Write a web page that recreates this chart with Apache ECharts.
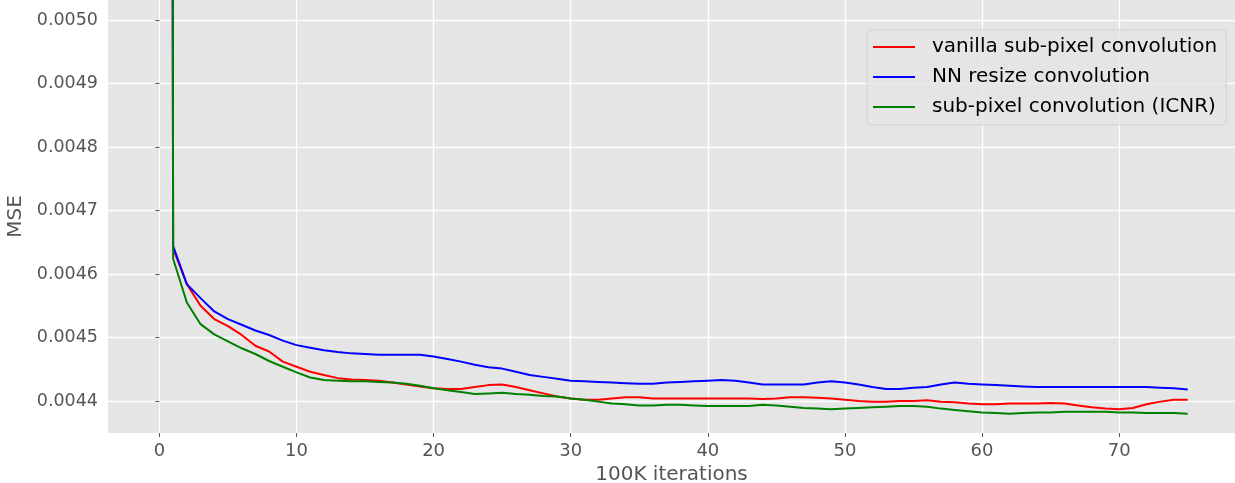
<!DOCTYPE html>
<html>
<head>
<meta charset="utf-8">
<script src="https://cdn.jsdelivr.net/npm/echarts@6/dist/echarts.min.js"></script>
<style>
html,body{margin:0;padding:0;background:#fff;}
#chart{width:1235px;height:483px;}
</style>
</head>
<body>
<div id="chart"></div>
<script>
const iterations = Array.from({length: 76}, (_, i) => i);
const vanillaSubPixel = [
0.0200,0.004640,0.004584,0.004550,0.004529,0.004518,0.004504,0.004487,0.004478,0.004462,
0.004454,0.004446,0.004441,0.004436,0.004434,0.004433,0.004432,0.004429,0.004426,0.004423,
0.004420,0.004419,0.004419,0.004422,0.004425,0.004426,0.004422,0.004417,0.004412,0.004407,
0.004404,0.004402,0.004402,0.004404,0.004406,0.004406,0.004404,0.004404,0.004404,0.004404,
0.004404,0.004404,0.004404,0.004404,0.004403,0.004404,0.004406,0.004406,0.004405,0.004404,
0.004402,0.004400,0.004399,0.004399,0.004400,0.004400,0.004401,0.004399,0.004398,0.004396,
0.004395,0.004395,0.004396,0.004396,0.004396,0.004397,0.004396,0.004393,0.004390,0.004388,
0.004387,0.004389,0.004395,0.004399,0.004402,0.004402];
const nnResize = [
0.0200,0.004644,0.004584,0.004562,0.004541,0.004529,0.004520,0.004511,0.004504,0.004495,
0.004488,0.004484,0.004480,0.004477,0.004475,0.004474,0.004473,0.004473,0.004473,0.004473,
0.004470,0.004466,0.004462,0.004457,0.004453,0.004451,0.004446,0.004441,0.004438,0.004435,
0.004432,0.004431,0.004430,0.004429,0.004428,0.004427,0.004427,0.004429,0.004430,0.004431,
0.004432,0.004433,0.004432,0.004429,0.004426,0.004426,0.004426,0.004426,0.004429,0.004431,
0.004429,0.004426,0.004422,0.004419,0.004419,0.004421,0.004422,0.004426,0.004429,0.004427,
0.004426,0.004425,0.004424,0.004423,0.004422,0.004422,0.004422,0.004422,0.004422,0.004422,
0.004422,0.004422,0.004422,0.004421,0.004420,0.004418];
const subPixelICNR = [
0.0200,0.004624,0.004555,0.004521,0.004505,0.004494,0.004483,0.004474,0.004463,0.004454,
0.004445,0.004437,0.004433,0.004432,0.004431,0.004431,0.004430,0.004429,0.004427,0.004424,
0.004420,0.004417,0.004414,0.004411,0.004412,0.004413,0.004411,0.004410,0.004408,0.004407,
0.004404,0.004402,0.004399,0.004396,0.004395,0.004393,0.004393,0.004394,0.004394,0.004393,
0.004392,0.004392,0.004392,0.004392,0.004394,0.004393,0.004391,0.004389,0.004388,0.004387,
0.004388,0.004389,0.004390,0.004391,0.004392,0.004392,0.004391,0.004388,0.004386,0.004384,
0.004382,0.004381,0.004380,0.004381,0.004382,0.004382,0.004383,0.004383,0.004383,0.004383,
0.004382,0.004382,0.004381,0.004381,0.004381,0.004380];
const seriesNames = ['vanilla sub-pixel convolution','NN resize convolution','sub-pixel convolution (ICNR)'];
const seriesColors = ['#FF0000','#0000FF','#008000'];
const xTicks = [0,10,20,30,40,50,60,70];
const yTicks = [0.0044,0.0045,0.0046,0.0047,0.0048,0.0049,0.0050];

const values = [vanillaSubPixel, nnResize, subPixelICNR];
const FONT = 'DejaVu Sans';
const chart = echarts.init(document.getElementById('chart'), null, {renderer:'canvas'});
chart.setOption({
  animation: false,
  backgroundColor: '#ffffff',
  textStyle: {fontFamily: FONT},
  grid: {left:108, right:0, top:0, bottom:50, show:true, backgroundColor:'#E5E5E5', borderWidth:0,
         containLabel:false, outerBoundsMode:'none'},
  xAxis: {
    type:'value', min:-3.75, max:78.45,
    name:'100K iterations', nameLocation:'middle', nameGap:31,
    nameTextStyle:{fontSize:20, color:'#555555', fontFamily:FONT},
    axisLine:{show:false},
    axisTick:{show:true, length:4, customValues:xTicks, lineStyle:{color:'#555555', width:1}},
    axisLabel:{customValues:xTicks, fontSize:18, color:'#555555', margin:9, fontFamily:FONT},
    splitLine:{show:true, lineStyle:{color:'#FFFFFF', width:1.3}}
  },
  yAxis: {
    type:'value', min:0.0043496, max:0.0050315,
    name:'MSE', nameLocation:'middle', nameGap:74,
    nameTextStyle:{fontSize:20, color:'#555555', fontFamily:FONT},
    axisLine:{show:false},
    axisTick:{show:true, length:4, customValues:yTicks, lineStyle:{color:'#555555', width:1}},
    axisLabel:{customValues:yTicks, fontSize:17.5, color:'#555555', margin:10, fontFamily:FONT,
      formatter: v => v.toFixed(4)},
    splitLine:{show:true, lineStyle:{color:'#FFFFFF', width:1.3}}
  },
  legend: {
    left:867, top:30, orient:'vertical', icon:'rect',
    padding:[7,9,8,6], itemGap:10, itemWidth:42, itemHeight:2,
    backgroundColor:'rgba(229,229,229,0.8)', borderColor:'rgba(204,204,204,0.8)', borderWidth:1, borderRadius:4,
    textStyle:{fontSize:20, color:'#000000', fontFamily:FONT, padding:[0,0,0,12], lineHeight:20},
    data: seriesNames
  },
  series: seriesNames.map((n,k)=>({
    name:n, type:'line', symbol:'none', clip:true,
    lineStyle:{color:seriesColors[k], width:2},
    itemStyle:{color:seriesColors[k]},
    data: iterations.map((x,i)=>[x, values[k][i]])
  }))
});
</script>
</body>
</html>
